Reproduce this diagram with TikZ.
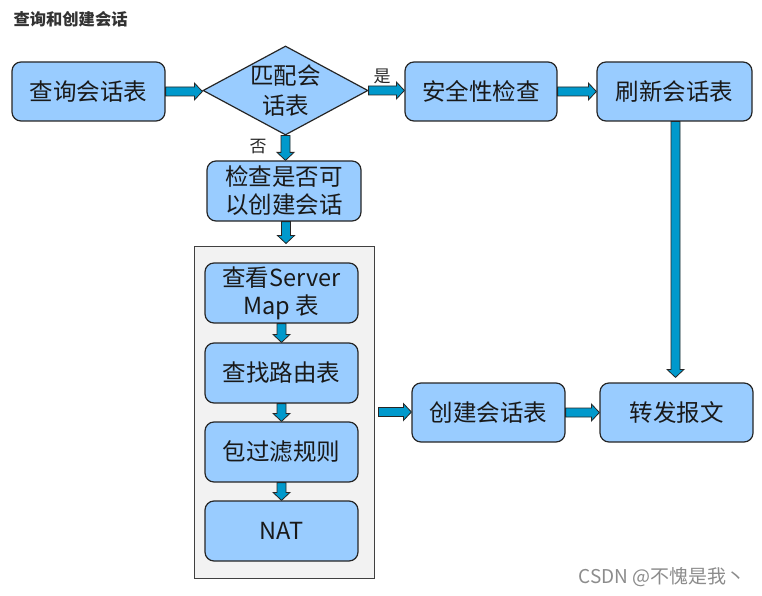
\documentclass[tikz,border=0pt]{standalone}
\usepackage{fontspec}
\setmainfont{Noto Sans CJK SC}
\usetikzlibrary{shapes.geometric,calc}
\definecolor{boxblue}{HTML}{99CCFF}
\definecolor{arrblue}{HTML}{0099CC}
\definecolor{edge}{HTML}{262626}
\definecolor{panel}{HTML}{F2F2F2}
\tikzset{
 box/.style={draw=edge, line width=1.2pt, fill=boxblue, rounded corners=9pt,
   minimum width=153pt, minimum height=59pt, inner sep=0pt, align=center,
   font=\fontsize{23.5}{28}\selectfont, text=black!90},
 barrow/.style={draw=edge, line width=0.8pt, fill=arrblue, line join=miter},
 lbl/.style={font=\fontsize{17}{20}\selectfont, text=black!85},
 panelbox/.style={draw=black!75, line width=1pt, fill=panel}
}
\newcommand\harr[2]{\draw[barrow] let \p1=(#1), \p2=(#2) in
  (\x1,\y1+4.5pt) -- (\x2-8pt,\y1+4.5pt) -- (\x2-8pt,\y1+8.5pt) -- (\x2,\y1)
  -- (\x2-8pt,\y1-8.5pt) -- (\x2-8pt,\y1-4.5pt) -- (\x1,\y1-4.5pt) -- cycle;}
\newcommand\varr[2]{\draw[barrow] let \p1=(#1), \p2=(#2) in
  (\x1-4.5pt,\y1) -- (\x1-4.5pt,\y2+8pt) -- (\x1-8.5pt,\y2+8pt) -- (\x1,\y2)
  -- (\x1+8.5pt,\y2+8pt) -- (\x1+4.5pt,\y2+8pt) -- (\x1+4.5pt,\y1) -- cycle;}
\begin{document}
\begin{tikzpicture}[x=1pt,y=-1pt]
\fill[white] (0,0) rectangle (762,596);
\useasboundingbox (0,0) rectangle (762,596);
\node[anchor=west, font=\fontsize{16.3}{19}\selectfont\bfseries, text=black!80] (title) at (10,19) {查询和创建会话};
% top row
\node[box] (q) at (88.5,91.5) {查询会话表};
\node[diamond, draw=edge, line width=1.2pt, fill=boxblue, minimum width=165pt, minimum height=89pt, inner sep=0pt] (m) at (285.5,90.5) {};
\node[align=center, font=\fontsize{23.5}{30}\selectfont, text=black!90] (mt) at (m) {匹配会\\话表};
\node[box, minimum width=152pt] (safe) at (481,91.5) {安全性检查};
\node[box, minimum width=155pt] (refresh) at (674.5,91.5) {刷新会话表};
\node[lbl] (yes) at (382,76) {是};
\node[lbl] (no) at (258,147) {否};
% left column
\node[box, minimum width=154pt, minimum height=60pt] (check) at (284,191) {检查是否可\\以创建会话};
\node[panelbox, minimum width=180pt, minimum height=332pt, inner sep=0pt] (cont) at (284,412) {};
\node[box, minimum height=60pt] (server) at (281.5,293) {查看Server\\Map 表};
\node[box, minimum height=60pt] (route) at (281.5,373) {查找路由表};
\node[box, minimum height=60pt] (filter) at (281.5,452) {包过滤规则};
\node[box, minimum height=60pt] (nat) at (281.5,531) {NAT};
% right lower
\node[box] (create) at (488.5,412.5) {创建会话表};
\node[box] (fwd) at (676.5,412.5) {转发报文};
% arrows
\harr{q.east}{m.west}
\harr{m.east}{safe.west}
\harr{safe.east}{refresh.west}
\varr{m.south}{check.north}
\varr{[xshift=2pt]check.south}{[yshift=2pt]cont.north}
\varr{server.south}{route.north}
\varr{route.south}{filter.north}
\varr{filter.south}{nat.north}
\harr{[xshift=4pt]cont.east}{create.west}
\harr{create.east}{fwd.west}
\varr{[xshift=1pt]refresh.south}{[yshift=5pt]fwd.north}
\node[anchor=east, font=\fontsize{19}{22}\selectfont, text=black!45] (wm) at (749,577) {CSDN @不愧是我丶};
\end{tikzpicture}
\end{document}
